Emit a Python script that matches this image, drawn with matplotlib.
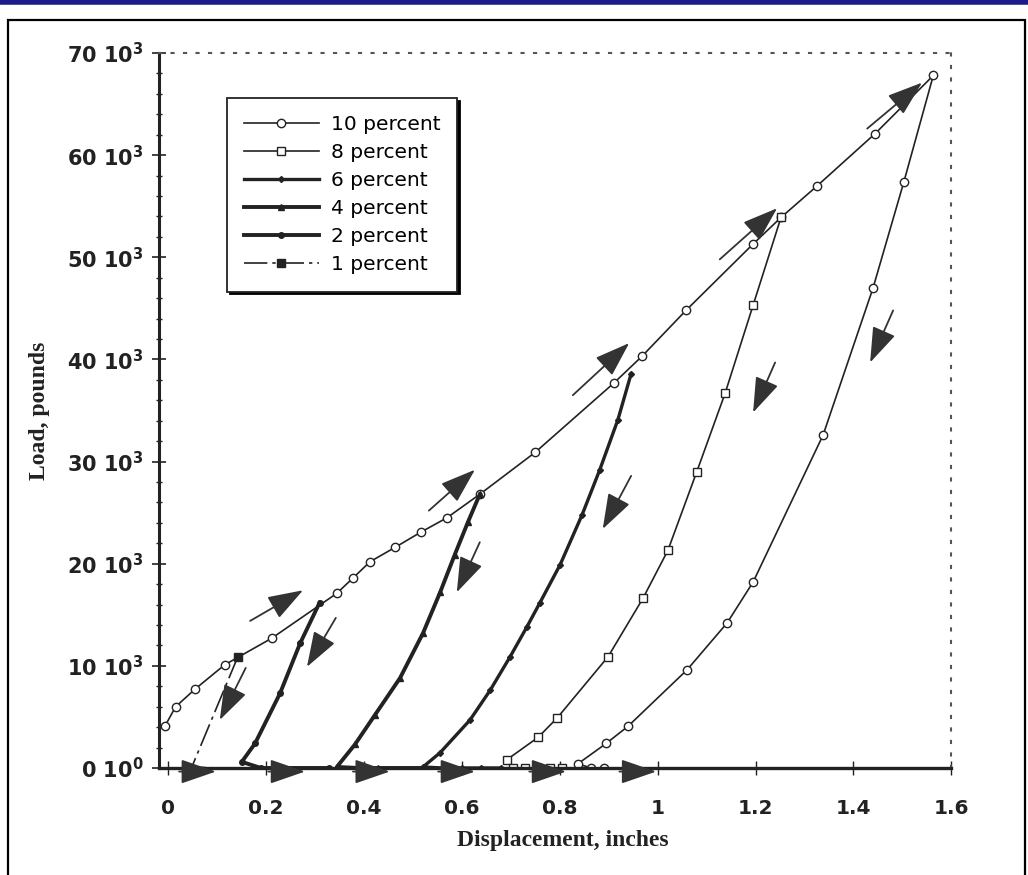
import matplotlib
matplotlib.use('Agg')
import matplotlib.pyplot as plt
from matplotlib.lines import Line2D
from matplotlib.patches import Rectangle
from matplotlib.ticker import FixedLocator, FixedFormatter, MultipleLocator

plt.rcParams['font.family'] = ['DejaVu Sans']
plt.rcParams['mathtext.fontset'] = 'custom'
plt.rcParams['mathtext.rm'] = 'DejaVu Sans:bold'
plt.rcParams['mathtext.default'] = 'regular'

# load-displacement data (inches, pounds)
disp_10 = [-0.006, 0.016, 0.055, 0.116, 0.212, 0.345, 0.378, 0.413, 0.464, 0.517, 0.570,
           0.637, 0.750, 0.911, 0.968, 1.058, 1.195, 1.252, 1.326, 1.444, 1.563,
           1.503, 1.440, 1.338, 1.195, 1.142, 1.060, 0.940, 0.895, 0.837, 0.865, 0.890, 0.940]
load_10 = [4100, 6000, 7700, 10100, 12700, 17100, 18600, 20200, 21600, 23100, 24500,
           26800, 30900, 37700, 40300, 44800, 51300, 53900, 57000, 62100, 67800,
           57400, 47000, 32600, 18200, 14200, 9600, 4100, 2400, 400, 0, 0, 0]

disp_8 = [1.252, 1.195, 1.138, 1.080, 1.021, 0.970, 0.899, 0.795, 0.756, 0.692,
          0.705, 0.730, 0.755, 0.780, 0.805]
load_8 = [53900, 45300, 36700, 29000, 21300, 16600, 10900, 4900, 3000, 800,
          0, 0, 0, 0, 0]

disp_6 = [0.946, 0.919, 0.882, 0.846, 0.801, 0.760, 0.733, 0.699, 0.658, 0.617, 0.556,
          0.521, 0.560, 0.600, 0.640, 0.680]
load_6 = [38600, 34100, 29200, 24800, 19900, 16200, 13800, 10900, 7600, 4700, 1500,
          100, 0, 0, 0, 0]

disp_4 = [0.637, 0.613, 0.586, 0.556, 0.521, 0.474, 0.423, 0.382, 0.345, 0.390, 0.430, 0.520]
load_4 = [26800, 24100, 20900, 17200, 13200, 8800, 5200, 2300, 100, 0, 0, 0]

disp_2 = [0.310, 0.270, 0.229, 0.178, 0.151, 0.190, 0.230, 0.330]
load_2 = [16200, 12200, 7300, 2400, 600, 0, 0, 0]

disp_1 = [0.143, 0.049, 0.100]
load_1 = [10900, 100, 0]

labels = ['10 percent', '8 percent', '6 percent', '4 percent', '2 percent', '1 percent']

# direction arrows (tail -> head)
up_tail = [(0.168, 14400), (0.533, 25200), (0.827, 36500), (1.127, 49800), (1.428, 62600)]
up_head = [(0.276, 17400), (0.627, 29200), (0.942, 41600), (1.244, 54800), (1.540, 67100)]
down_tail = [(0.159, 9800), (0.343, 14700), (0.637, 22100), (0.946, 28600), (1.240, 39700), (1.481, 44800)]
down_head = [(0.106, 4700), (0.284, 9900), (0.590, 17200), (0.888, 23400), (1.195, 34800), (1.434, 39700)]
right_tips = [0.098, 0.280, 0.453, 0.627, 0.813, 0.997]

yticks = [0, 10000, 20000, 30000, 40000, 50000, 60000, 70000]
ytick_labels = ['0 10$^0$', '10 10$^3$', '20 10$^3$', '30 10$^3$',
                '40 10$^3$', '50 10$^3$', '60 10$^3$', '70 10$^3$']
xticks = [0, 0.2, 0.4, 0.6, 0.8, 1.0, 1.2, 1.4, 1.6]
xtick_labels = ['0', '0.2', '0.4', '0.6', '0.8', '1', '1.2', '1.4', '1.6']

ink = '#222222'

fig = plt.figure(figsize=(10.28, 8.75), dpi=100)
ax = fig.add_axes([0.1547, 0.1223, 0.7708, 0.8171])

ax.plot(disp_10, load_10, color=ink, lw=1.2, marker='o', ms=6, mfc='white', mec=ink, mew=1.0,
        label=labels[0])
ax.plot(disp_8, load_8, color=ink, lw=1.2, marker='s', ms=6, mfc='white', mec=ink, mew=1.0,
        label=labels[1])
ax.plot(disp_6, load_6, color=ink, lw=2.4, marker='D', ms=3, mfc=ink, mec=ink, label=labels[2])
ax.plot(disp_4, load_4, color=ink, lw=2.8, marker='^', ms=4, mfc=ink, mec=ink, label=labels[3])
ax.plot(disp_2, load_2, color=ink, lw=2.8, marker='o', ms=4, mfc=ink, mec=ink, label=labels[4])
ax.plot(disp_1, load_1, color=ink, lw=1.2, ls=(0, (14, 3, 2, 3)), marker='s', ms=6,
        mfc=ink, mec=ink, markevery=[0], label=labels[5])

arrow_style = dict(arrowstyle='-|>,head_length=1.1,head_width=0.38', mutation_scale=20,
                   lw=1.3, color='#333333', shrinkA=0, shrinkB=0)
for tail, head in zip(up_tail + down_tail, up_head + down_head):
    ax.annotate('', xy=head, xytext=tail, arrowprops=arrow_style, annotation_clip=False)
for tip in right_tips:
    ax.annotate('', xy=(tip, -350), xytext=(tip - 0.075, -350), arrowprops=arrow_style,
                annotation_clip=False)

ax.set_xlim(-0.018, 1.6)
ax.set_ylim(0, 70000)

ax.yaxis.set_major_locator(FixedLocator(yticks))
ax.yaxis.set_major_formatter(FixedFormatter(ytick_labels))
ax.yaxis.set_minor_locator(MultipleLocator(2000))
ax.xaxis.set_major_locator(FixedLocator(xticks))
ax.xaxis.set_major_formatter(FixedFormatter(xtick_labels))

ax.tick_params(axis='y', which='major', direction='inout', length=10, width=1.2, pad=6,
               labelsize=15, colors=ink)
ax.tick_params(axis='y', which='minor', direction='inout', length=5, width=1.0, colors=ink)
ax.tick_params(axis='x', which='major', direction='inout', length=10, width=1.0, pad=17,
               labelsize=14.5, colors=ink)
for lab in ax.get_xticklabels() + ax.get_yticklabels():
    lab.set_fontweight('bold')

ax.spines['left'].set_linewidth(2.2)
ax.spines['bottom'].set_linewidth(2.4)
ax.spines['left'].set_color(ink)
ax.spines['bottom'].set_color(ink)
for side in ['top', 'right']:
    ax.spines[side].set_linestyle((0, (1, 5)))
    ax.spines[side].set_linewidth(1.5)
    ax.spines[side].set_color('#555555')

ax.set_xlabel('Displacement, inches', family='Liberation Serif', fontweight='bold',
              fontsize=17, color=ink, va='top')
ax.xaxis.set_label_coords(0.51, -0.087)
ax.set_ylabel('Load, pounds', family='Liberation Serif', fontweight='bold',
              fontsize=17, color=ink)
ax.yaxis.set_label_coords(-0.138, 0.5)

leg = ax.legend(loc='upper left', bbox_to_anchor=(227 / 1028, 1 - 98 / 875),
                bbox_transform=fig.transFigure, fontsize=14.5, handlelength=3.7,
                handletextpad=0.6, labelspacing=0.45, borderpad=0.85, borderaxespad=0,
                fancybox=False, framealpha=1, edgecolor=ink,
                shadow=dict(color='black', alpha=1))
leg.get_frame().set_linewidth(1.3)

# scan frame: blue strip on top, thin black box
fig.add_artist(Line2D([0, 1], [1 - 2 / 875, 1 - 2 / 875], color='#1c1c8c', lw=4))
fig.add_artist(Rectangle((8 / 1028, -0.01), 1017 / 1028, 1.01 - 20 / 875, fill=False,
                         ec='black', lw=1.6))

fig.savefig('out.png', dpi=100)
